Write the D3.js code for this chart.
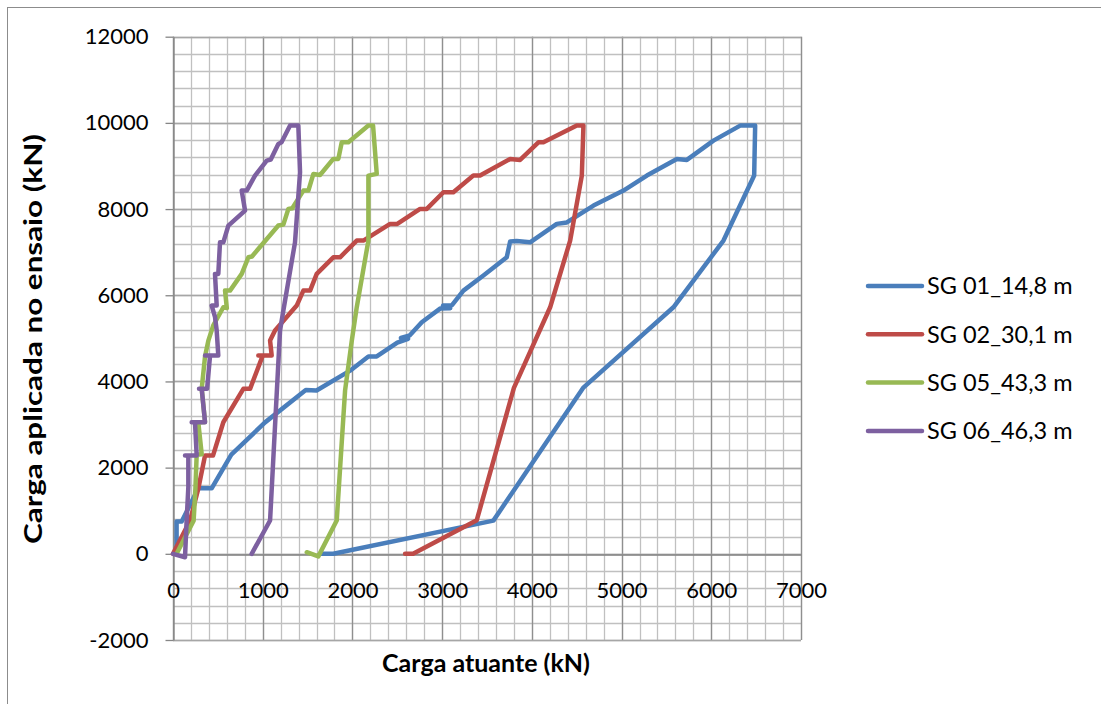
<!DOCTYPE html>
<html>
<head>
<meta charset="utf-8">
<script src="https://cdn.jsdelivr.net/npm/d3@7"></script>
<style>
  body { margin: 0; background: #fff; }
  text { font-family: Lato, "Open Sans", sans-serif; fill: #000; }
</style>
</head>
<body>
<script>
// strain gauge readings, [carga atuante, carga aplicada] in kN
const seriesNames = ['SG 01_14,8 m', 'SG 02_30,1 m', 'SG 05_43,3 m', 'SG 06_46,3 m']
const seriesColors = ['#4a7ebb', '#be4b48', '#98b954', '#7d60a0']

const sg01 = [[40,0],[40,750],[97,750],[282,1520],[431,1520],[650,2300],[1026,3050],[1480,3800],[1600,3790],
  [1974,4250],[2178,4580],[2271,4580],[2500,4900],[2620,4990],[2540,5010],[2640,5070],[2773,5373],[2977,5690],
  [3090,5700],[3010,5760],[3110,5770],[3237,6108],[3460,6457],[3720,6881],[3758,7250],[3830,7260],[3980,7229],
  [4278,7656],[4390,7690],[4687,8081],[5021,8429],[5282,8777],[5616,9164],[5728,9141],[6024,9589],[6322,9937],
  [6489,9937],[6478,8780],[6136,7269],[5578,5721],[4571,3850],[3571,770],[1787,0],[1650,0]]

const sg02 = [[0,0],[190,770],[282,1510],[357,2280],[446,2280],[561,3053],[784,3828],[859,3828],[1000,4600],
  [951,4600],[1100,4600],[1082,4948],[1137,5181],[1379,5760],[1453,6108],[1528,6108],[1602,6496],[1787,6881],
  [1862,6881],[2048,7269],[2122,7269],[2420,7656],[2500,7656],[2754,8004],[2829,8004],[3014,8390],[3125,8390],
  [3348,8777],[3423,8777],[3758,9164],[3869,9141],[4073,9549],[4129,9549],[4501,9937],[4575,9937],[4557,8777],
  [4427,7269],[4204,5721],[3800,3850],[3386,780],[2676,0],[2587,0]]

const sg05 = [[40,0],[230,770],[250,1520],[264,2300],[320,2310],[282,3050],[357,3060],[320,3830],[357,4580],
  [394,4948],[449,5300],[561,5721],[600,5700],[580,6108],[636,6108],[766,6496],[840,6881],[880,6900],[1174,7617],
  [1230,7640],[1286,8004],[1330,8020],[1453,8429],[1509,8429],[1565,8816],[1639,8790],[1787,9164],[1843,9164],
  [1881,9549],[1955,9549],[2178,9937],[2230,9937],[2271,8816],[2178,8777],[2178,7269],[2048,5721],[1993,4948],
  [1918,3789],[1825,773],[1620,-60],[1491,37]]

const sg06 = [[0,0],[134,-79],[152,773],[171,1545],[171,2280],[134,2280],[264,2280],[245,3053],[208,3053],
  [357,3053],[320,3828],[290,3828],[380,3828],[413,4600],[357,4600],[505,4600],[487,5181],[468,5500],[431,5760],
  [487,5760],[468,6496],[505,6496],[524,7229],[561,7229],[617,7617],[803,7965],[766,8429],[822,8429],[914,8777],
  [1045,9125],[1090,9150],[1174,9512],[1210,9550],[1305,9937],[1397,9937],[1416,8853],[1360,7229],[1230,5644],
  [1193,5181],[1082,773],[877,0]]

const allSeries = [sg01, sg02, sg05, sg06]

const xTicks = [0, 1000, 2000, 3000, 4000, 5000, 6000, 7000]
const yTicks = [-2000, 0, 2000, 4000, 6000, 8000, 10000, 12000]

const width = 1101, height = 704

const svg = d3.select('body').append('svg')
  .attr('width', width)
  .attr('height', height)

// outer chart frame
svg.append('rect')
  .attr('x', 7.5).attr('y', 7.5)
  .attr('width', width + 20).attr('height', height + 20)
  .attr('fill', 'none').attr('stroke', '#8c8c8c')

const x = d3.scaleLinear().domain([0, 7000]).range([173, 801])
const y = d3.scaleLinear().domain([-2000, 12000]).range([640, 36.7])

const grid = svg.append('g')
// minor grid
grid.selectAll('.vminor').data(d3.range(0, 7001, 200)).enter().append('line')
  .attr('x1', d => Math.round(x(d)) + 0.5).attr('x2', d => Math.round(x(d)) + 0.5)
  .attr('y1', y(12000)).attr('y2', y(-2000))
  .attr('stroke', '#c0c0c0').attr('stroke-width', 1.3)
grid.selectAll('.hminor').data(d3.range(-2000, 12001, 400)).enter().append('line')
  .attr('y1', d => Math.round(y(d)) + 0.5).attr('y2', d => Math.round(y(d)) + 0.5)
  .attr('x1', x(0)).attr('x2', x(7000))
  .attr('stroke', '#c0c0c0').attr('stroke-width', 1.3)
// major grid
grid.selectAll('.vmajor').data(xTicks).enter().append('line')
  .attr('x1', d => Math.round(x(d)) + 0.5).attr('x2', d => Math.round(x(d)) + 0.5)
  .attr('y1', y(12000)).attr('y2', y(-2000))
  .attr('stroke', '#8f8f8f').attr('stroke-width', 1.3)
grid.selectAll('.hmajor').data(yTicks).enter().append('line')
  .attr('y1', d => Math.round(y(d)) + 0.5).attr('y2', d => Math.round(y(d)) + 0.5)
  .attr('x1', x(0)).attr('x2', x(7000))
  .attr('stroke', '#a6a6a6').attr('stroke-width', 1.3)

// y axis
const yAxis = svg.append('g')
  .attr('transform', `translate(${Math.round(x(0)) + 0.5},0)`)
  .call(d3.axisLeft(y).tickValues(yTicks).tickSize(8).tickPadding(17).tickSizeOuter(0).tickFormat(d => String(d)))
yAxis.select('.domain').attr('stroke', '#868686').attr('stroke-width', 1.3)
yAxis.selectAll('.tick line').attr('stroke', '#868686').attr('stroke-width', 1.3)
yAxis.selectAll('text').style('font-size', '22px').attr('font-family', null)

// x axis crossing at zero
const xAxis = svg.append('g')
  .attr('transform', `translate(0,${Math.round(y(0)) + 0.5})`)
  .call(d3.axisBottom(x).tickValues(xTicks).tickSize(0).tickPadding(28).tickSizeOuter(0).tickFormat(d => String(d)))
xAxis.select('.domain').attr('stroke', '#868686').attr('stroke-width', 1.3)
xAxis.selectAll('text').style('font-size', '22px').attr('font-family', null)

// series lines
const line = d3.line().x(d => x(d[0])).y(d => y(d[1]))
svg.append('g').selectAll('path').data(allSeries).enter().append('path')
  .attr('d', line)
  .attr('fill', 'none')
  .attr('stroke', (d, i) => seriesColors[i])
  .attr('stroke-width', 4.5)
  .attr('stroke-linejoin', 'round')
  .attr('stroke-linecap', 'round')

// axis titles
svg.append('text')
  .attr('transform', 'translate(42,339) rotate(-90)')
  .attr('text-anchor', 'middle')
  .attr('textLength', 410).attr('lengthAdjust', 'spacingAndGlyphs')
  .style('font-size', '25px').style('font-weight', 'bold')
  .text('Carga aplicada no ensaio (kN)')
svg.append('text')
  .attr('x', 486).attr('y', 672)
  .attr('text-anchor', 'middle')
  .style('font-size', '25px').style('font-weight', 'bold')
  .text('Carga atuante (kN)')

// legend
const legend = svg.append('g').selectAll('g').data(seriesNames).enter().append('g')
  .attr('transform', (d, i) => `translate(868,${286 + i * 48.3})`)
legend.append('line')
  .attr('x1', 0).attr('x2', 54)
  .attr('stroke', (d, i) => seriesColors[i])
  .attr('stroke-width', 4.5).attr('stroke-linecap', 'round')
legend.append('text')
  .attr('x', 59).attr('dy', '0.35em')
  .style('font-size', '23.5px')
  .text(d => d)
</script>
</body>
</html>
